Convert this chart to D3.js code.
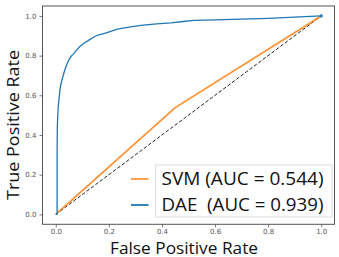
<!DOCTYPE html>
<html><head><meta charset="utf-8">
<script src="https://cdn.jsdelivr.net/npm/d3@7"></script>
<style>body{margin:0;background:#fff}</style>
</head><body>
<script>
const xTicks = [0.0, 0.2, 0.4, 0.6, 0.8, 1.0];
const yTicks = [0.0, 0.2, 0.4, 0.6, 0.8, 1.0];
const seriesNames = ["SVM (AUC = 0.544)", "DAE  (AUC = 0.939)"];
const svmFpr = [0, 0.45, 1];
const svmTpr = [0, 0.538, 1];
const daeFpr = [0,0.005,0.005,0.006,0.009,0.012,0.016,0.02,0.024,0.03,0.036,0.043,0.052,0.06,0.068,0.078,0.09,0.106,0.125,0.145,0.162,0.19,0.232,0.27,0.32,0.38,0.433,0.48,0.52,0.6,0.7,0.8,0.9,1];
const daeTpr = [0,0,0.3,0.45,0.54,0.58,0.63,0.66,0.68,0.71,0.735,0.76,0.785,0.80,0.81,0.828,0.845,0.862,0.878,0.895,0.905,0.915,0.933,0.942,0.952,0.96,0.965,0.972,0.978,0.98,0.984,0.988,0.994,1];
const diag = [0, 1];

const W = 339, H = 257;
const svg = d3.select("body").append("svg").attr("width", W).attr("height", H);
const L = 42.5, R = 334.5, T = 6, B = 224.3;
const x = d3.scaleLinear().domain([-0.05, 1.05]).range([L, R]);
const y = d3.scaleLinear().domain([-0.05, 1.05]).range([B, T]);

const xAxis = svg.append("g").attr("transform", `translate(0,${B})`)
  .call(d3.axisBottom(x).tickValues(xTicks).tickFormat(d3.format(".1f")).tickSize(3).tickPadding(2));
const yAxis = svg.append("g").attr("transform", `translate(${L},0)`)
  .call(d3.axisLeft(y).tickValues(yTicks).tickFormat(d3.format(".1f")).tickSize(3).tickPadding(3));
[xAxis, yAxis].forEach(a => {
  a.select(".domain").remove();
  a.selectAll("line").attr("stroke", "#555").attr("stroke-width", 0.8);
  a.selectAll("text").attr("fill", "#555").style("font-family", "DejaVu Sans").style("font-size", "7px");
});

const line = d3.line().x(d => x(d[0])).y(d => y(d[1]));
svg.append("path").datum(diag.map((v,i)=>[v, diag[i]])).attr("d", line)
  .attr("fill","none").attr("stroke","#222").attr("stroke-width",1).attr("stroke-dasharray","3.5,2");
svg.append("path").datum(svmFpr.map((v,i)=>[v, svmTpr[i]])).attr("d", line)
  .attr("fill","none").attr("stroke","#ff7f0e").attr("stroke-width",1.8).attr("opacity",0.85);
svg.append("path").datum(daeFpr.map((v,i)=>[v, daeTpr[i]])).attr("d", line)
  .attr("fill","none").attr("stroke","#1f77b4").attr("stroke-width",1.3);
svg.append("circle").attr("cx", x(1)).attr("cy", y(1)).attr("r", 1.6).attr("fill", "#1f77b4");

svg.append("rect").attr("x", L).attr("y", T).attr("width", R-L).attr("height", B-T)
  .attr("fill","none").attr("stroke","#555").attr("stroke-width",1);

// legend
svg.append("rect").attr("x", 155.5).attr("y", 165).attr("width", 176.5).attr("height", 52)
  .attr("fill","#fff").attr("fill-opacity",0.8).attr("stroke","#ddd").attr("stroke-width",1);
const colors = ["#ff7f0e", "#1f77b4"];
const ly = [179, 205];
seriesNames.forEach((n,i) => {
  svg.append("line").attr("x1",131).attr("x2",148.5).attr("y1",ly[i]).attr("y2",ly[i])
    .attr("stroke",colors[i]).attr("stroke-width",1.8).attr("opacity", i===0?0.8:1);
  svg.append("text").attr("x",161.5).attr("y",ly[i]).attr("dy","0.35em")
    .style("font-family","Open Sans").style("font-size","18.5px").attr("fill","#111")
    .attr("xml:space","preserve").style("white-space","pre")
    .attr("textLength", 162).attr("lengthAdjust","spacingAndGlyphs").text(n);
});

svg.append("text").attr("x", 184).attr("y", 253.5).attr("text-anchor","middle")
  .style("font-family","Open Sans").style("font-size","16.5px").attr("fill","#111")
  .attr("textLength", 148).attr("lengthAdjust","spacingAndGlyphs")
  .text("False Positive Rate");
svg.append("text").attr("transform", `translate(19,${125}) rotate(-90)`).attr("text-anchor","middle")
  .style("font-family","Open Sans").style("font-size","17px").attr("fill","#111")
  .attr("textLength", 150).attr("lengthAdjust","spacingAndGlyphs")
  .text("True Positive Rate");
</script>
</body></html>
